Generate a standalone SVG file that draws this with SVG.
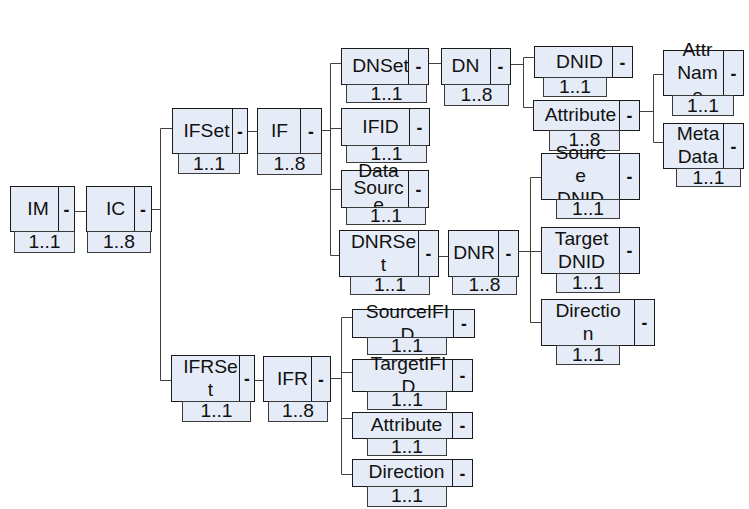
<svg xmlns="http://www.w3.org/2000/svg" width="749" height="509" viewBox="0 0 749 509">
<style>
.box{fill:#E6ECF7;stroke:#1a1a1a;stroke-width:1}
.card{fill:#E6ECF7;stroke:#3a3a3a;stroke-width:1}
.dv{stroke:#1a1a1a;stroke-width:1}
.t{font-family:"Liberation Sans",Arial,sans-serif;font-size:17.5px;fill:#111;text-anchor:middle}
.m{font-family:"Liberation Sans",Arial,sans-serif;font-size:17.5px;font-weight:bold;fill:#111;text-anchor:middle}
.cn{fill:none;stroke:#404040;stroke-width:1}
</style>
<rect width="749" height="509" fill="#fff"/>
<g transform="translate(0.5 0.5)">
<g id="connectors">
<path class="cn" d="M74 211H86 M151 209H160 M160 128V380 M160 128H172 M160 380H171 M247 131H257 M321 130H330 M330 63V255 M330 63H341 M330 128H341 M330 189H341 M330 255H339 M428 63H441 M510 64H523 M523 57V107 M523 57H534 M523 107H533 M639 111H653 M653 74V142 M653 74H663 M653 142H663 M438 256H448 M518 251H530 M530 177V322 M530 177H541 M530 251H541 M530 322H541 M254 380H263 M330 378H341 M341 317V474 M341 317H352 M341 372H352 M341 418H352 M341 474H352"/>
</g>

<g id="n-IM">
<rect class="box" x="10" y="186" width="64" height="45"/><line class="dv" x1="58" y1="186" x2="58" y2="231"/>
<text class="t" transform="translate(37.5 0) scale(1.1 1)" y="215">IM</text>
<text class="m" x="66" y="215">-</text>
<rect class="card" x="14" y="231" width="60" height="21"/>
<text class="t" transform="translate(44 0) scale(1.1 1)" y="247.5">1..1</text>
</g>

<g id="n-IC">
<rect class="box" x="86" y="186" width="65" height="45"/><line class="dv" x1="134" y1="186" x2="134" y2="231"/>
<text class="t" transform="translate(115 0) scale(1.1 1)" y="215">IC</text>
<text class="m" x="142.5" y="215">-</text>
<rect class="card" x="87" y="231" width="63" height="21"/>
<text class="t" transform="translate(118.5 0) scale(1.1 1)" y="247.5">1..8</text>
</g>

<g id="n-IFSet">
<rect class="box" x="172" y="108" width="75" height="45"/><line class="dv" x1="232" y1="108" x2="232" y2="153"/>
<text class="t" transform="translate(206 0) scale(1.1 1)" y="137">IFSet</text>
<text class="m" x="239.5" y="137">-</text>
<rect class="card" x="178" y="153" width="61" height="20"/>
<text class="t" transform="translate(208.5 0) scale(1.1 1)" y="169.5">1..1</text>
</g>

<g id="n-IF">
<rect class="box" x="257" y="108" width="64" height="45"/><line class="dv" x1="300" y1="108" x2="300" y2="153"/>
<text class="t" transform="translate(279 0) scale(1.1 1)" y="137">IF</text>
<text class="m" x="310.5" y="137">-</text>
<rect class="card" x="257" y="153" width="64" height="21"/>
<text class="t" transform="translate(289 0) scale(1.1 1)" y="170">1..8</text>
</g>

<g id="n-DNSet">
<rect class="box" x="341" y="48" width="87" height="36"/><line class="dv" x1="408" y1="48" x2="408" y2="84"/>
<text class="t" transform="translate(380 0) scale(1.1 1)" y="72">DNSet</text>
<text class="m" x="418" y="72.5">-</text>
<rect class="card" x="346" y="84" width="80" height="18"/>
<text class="t" transform="translate(386 0) scale(1.1 1)" y="99.5">1..1</text>
</g>

<g id="n-DN">
<rect class="box" x="441" y="48" width="69" height="36"/><line class="dv" x1="490" y1="48" x2="490" y2="84"/>
<text class="t" transform="translate(465 0) scale(1.1 1)" y="72">DN</text>
<text class="m" x="500" y="72.5">-</text>
<rect class="card" x="444" y="84" width="64" height="21"/>
<text class="t" transform="translate(476 0) scale(1.1 1)" y="101">1..8</text>
</g>

<g id="n-DNID">
<rect class="box" x="534" y="46" width="98" height="31"/><line class="dv" x1="612" y1="46" x2="612" y2="77"/>
<text class="t" transform="translate(579 0) scale(1.1 1)" y="67.5">DNID</text>
<text class="m" x="622" y="68">-</text>
<rect class="card" x="543" y="77" width="63" height="19"/>
<text class="t" transform="translate(574.5 0) scale(1.1 1)" y="93">1..1</text>
</g>

<g id="n-DNAttribute">
<rect class="box" x="533" y="100" width="106" height="30"/><line class="dv" x1="619" y1="100" x2="619" y2="130"/>
<text class="t" transform="translate(580 0) scale(1.1 1)" y="121">Attribute</text>
<text class="m" x="629" y="121.5">-</text>
<rect class="card" x="549" y="130" width="70" height="20"/>
<text class="t" transform="translate(584 0) scale(1.1 1)" y="146">1..8</text>
</g>

<g id="n-AttrName">
<rect class="box" x="663" y="50" width="80" height="45"/><line class="dv" x1="723" y1="50" x2="723" y2="95"/>
<text class="t" transform="translate(697 0) scale(1.1 1)" y="56"><tspan x="0">Attr</tspan><tspan x="0" dy="23">Nam</tspan><tspan x="0" dy="23">e</tspan></text>
<text class="m" x="733" y="79">-</text>
<rect class="card" x="672" y="95" width="61" height="20"/>
<text class="t" transform="translate(702.5 0) scale(1.1 1)" y="111.5">1..1</text>
</g>

<g id="n-MetaData">
<rect class="box" x="663" y="123" width="80" height="45"/><line class="dv" x1="723" y1="123" x2="723" y2="168"/>
<text class="t" transform="translate(697.5 0) scale(1.1 1)" y="140"><tspan x="0">Meta</tspan><tspan x="0" dy="23">Data</tspan></text>
<text class="m" x="733" y="152">-</text>
<rect class="card" x="676" y="168" width="64" height="18"/>
<text class="t" transform="translate(708 0) scale(1.1 1)" y="183.5">1..1</text>
</g>

<g id="n-IFID">
<rect class="box" x="341" y="108" width="88" height="37"/><line class="dv" x1="409" y1="108" x2="409" y2="145"/>
<text class="t" transform="translate(380 0) scale(1.1 1)" y="132.5">IFID</text>
<text class="m" x="419" y="133">-</text>
<rect class="card" x="346" y="145" width="80" height="17"/>
<text class="t" transform="translate(386 0) scale(1.1 1)" y="159.5">1..1</text>
</g>

<g id="n-DataSource">
<rect class="box" x="341" y="170" width="87" height="37"/><line class="dv" x1="408" y1="170" x2="408" y2="207"/>
<text class="t" transform="translate(378 0) scale(1.1 1)" y="177"><tspan x="0">Data</tspan><tspan x="0" dy="17">Sourc</tspan><tspan x="0" dy="17">e</tspan></text>
<text class="m" x="418" y="195">-</text>
<rect class="card" x="346" y="207" width="79" height="17"/>
<text class="t" transform="translate(385.5 0) scale(1.1 1)" y="221.5">1..1</text>
</g>

<g id="n-DNRSet">
<rect class="box" x="339" y="230" width="99" height="46"/><line class="dv" x1="418" y1="230" x2="418" y2="276"/>
<text class="t" transform="translate(383 0) scale(1.1 1)" y="247.5"><tspan x="0">DNRSe</tspan><tspan x="0" dy="23">t</tspan></text>
<text class="m" x="428" y="259.5">-</text>
<rect class="card" x="350" y="276" width="79" height="18"/>
<text class="t" transform="translate(389.5 0) scale(1.1 1)" y="291">1..1</text>
</g>

<g id="n-DNR">
<rect class="box" x="448" y="230" width="70" height="46"/><line class="dv" x1="498" y1="230" x2="498" y2="276"/>
<text class="t" transform="translate(473.5 0) scale(1.1 1)" y="259">DNR</text>
<text class="m" x="508" y="259.5">-</text>
<rect class="card" x="452" y="276" width="64" height="18"/>
<text class="t" transform="translate(484 0) scale(1.1 1)" y="291">1..8</text>
</g>

<g id="n-SourceDNID">
<rect class="box" x="541" y="153" width="98" height="46"/><line class="dv" x1="619" y1="153" x2="619" y2="199"/>
<text class="t" transform="translate(580 0) scale(1.1 1)" y="159"><tspan x="0">Sourc</tspan><tspan x="0" dy="23">e</tspan><tspan x="0" dy="23">DNID</tspan></text>
<text class="m" x="629" y="182.5">-</text>
<rect class="card" x="556" y="199" width="63" height="19"/>
<text class="t" transform="translate(587.5 0) scale(1.1 1)" y="215">1..1</text>
</g>

<g id="n-TargetDNID">
<rect class="box" x="541" y="227" width="98" height="46"/><line class="dv" x1="619" y1="227" x2="619" y2="273"/>
<text class="t" transform="translate(581 0) scale(1.1 1)" y="244.5"><tspan x="0">Target</tspan><tspan x="0" dy="23">DNID</tspan></text>
<text class="m" x="629" y="256.5">-</text>
<rect class="card" x="556" y="273" width="63" height="19"/>
<text class="t" transform="translate(587.5 0) scale(1.1 1)" y="288.5">1..1</text>
</g>

<g id="n-DNRDirection">
<rect class="box" x="541" y="299" width="113" height="46"/><line class="dv" x1="634" y1="299" x2="634" y2="345"/>
<text class="t" transform="translate(587.5 0) scale(1.1 1)" y="316.5"><tspan x="0">Directio</tspan><tspan x="0" dy="23">n</tspan></text>
<text class="m" x="644" y="328.5">-</text>
<rect class="card" x="556" y="345" width="63" height="19"/>
<text class="t" transform="translate(587.5 0) scale(1.1 1)" y="360.5">1..1</text>
</g>

<g id="n-IFRSet">
<rect class="box" x="171" y="355" width="83" height="46"/><line class="dv" x1="239" y1="355" x2="239" y2="401"/>
<text class="t" transform="translate(210 0) scale(1.1 1)" y="372.5"><tspan x="0">IFRSe</tspan><tspan x="0" dy="23">t</tspan></text>
<text class="m" x="246.5" y="384.5">-</text>
<rect class="card" x="182" y="401" width="68" height="20"/>
<text class="t" transform="translate(216 0) scale(1.1 1)" y="417">1..1</text>
</g>

<g id="n-IFR">
<rect class="box" x="263" y="356" width="67" height="45"/><line class="dv" x1="311" y1="356" x2="311" y2="401"/>
<text class="t" transform="translate(292 0) scale(1.1 1)" y="384.5">IFR</text>
<text class="m" x="320.5" y="385">-</text>
<rect class="card" x="268" y="401" width="59" height="20"/>
<text class="t" transform="translate(297.5 0) scale(1.1 1)" y="417">1..8</text>
</g>

<g id="n-SourceIFID">
<rect class="box" x="352" y="309" width="122" height="28"/><line class="dv" x1="453" y1="309" x2="453" y2="337"/>
<text class="t" transform="translate(407 0) scale(1.1 1)" y="317.5"><tspan x="0">SourceIFI</tspan><tspan x="0" dy="23">D</tspan></text>
<text class="m" x="463.5" y="329.5">-</text>
<rect class="card" x="367" y="337" width="79" height="17"/>
<text class="t" transform="translate(406.5 0) scale(1.1 1)" y="351.5">1..1</text>
</g>

<g id="n-TargetIFID">
<rect class="box" x="352" y="359" width="120" height="32"/><line class="dv" x1="452" y1="359" x2="452" y2="391"/>
<text class="t" transform="translate(408 0) scale(1.1 1)" y="369.5"><tspan x="0">TargetIFI</tspan><tspan x="0" dy="23">D</tspan></text>
<text class="m" x="462" y="381.5">-</text>
<rect class="card" x="367" y="391" width="79" height="18"/>
<text class="t" transform="translate(406.5 0) scale(1.1 1)" y="406">1..1</text>
</g>

<g id="n-IFRAttribute">
<rect class="box" x="352" y="412" width="120" height="26"/><line class="dv" x1="452" y1="412" x2="452" y2="438"/>
<text class="t" transform="translate(406 0) scale(1.1 1)" y="431">Attribute</text>
<text class="m" x="462" y="431.5">-</text>
<rect class="card" x="367" y="438" width="79" height="17"/>
<text class="t" transform="translate(406.5 0) scale(1.1 1)" y="452.5">1..1</text>
</g>

<g id="n-IFRDirection">
<rect class="box" x="352" y="459" width="120" height="27"/><line class="dv" x1="452" y1="459" x2="452" y2="486"/>
<text class="t" transform="translate(406 0) scale(1.1 1)" y="478">Direction</text>
<text class="m" x="462" y="479">-</text>
<rect class="card" x="367" y="486" width="79" height="20"/>
<text class="t" transform="translate(406.5 0) scale(1.1 1)" y="502">1..1</text>
</g>
</g>
</svg>
